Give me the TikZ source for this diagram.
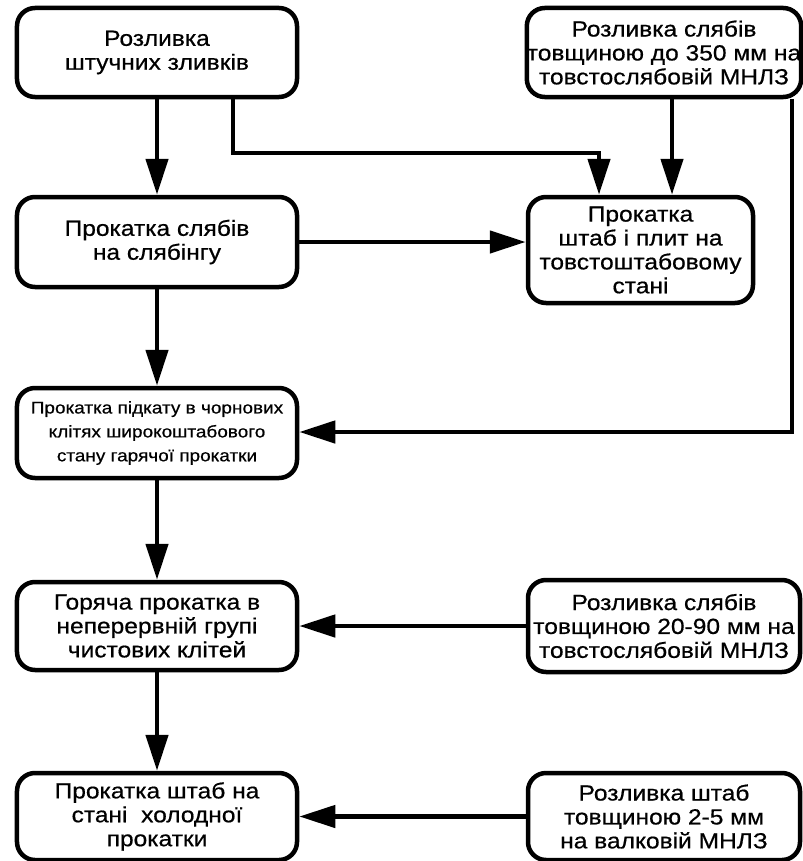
\documentclass[tikz,border=0pt]{standalone}
\usepackage{fontspec}
\setmainfont{Liberation Sans}[FakeStretch=1.12, FakeBold=0.6]
\usetikzlibrary{arrows.meta}

\tikzset{
  blok/.style={draw, line width=4.5bp, rounded corners=18bp, align=center,
    inner sep=0pt, font=\fontsize{22}{24}\selectfont},
  potik/.style={line width=4.5bp, line join=miter,
    -{Triangle[length=36bp,width=22bp]}}
}

\begin{document}
\begin{tikzpicture}[x=1bp, y=-1bp]

    \useasboundingbox (0,0) rectangle (803,861);

    % Left column
    \node[blok, minimum width=280bp, minimum height=89bp] (zlivky) at (157,52.5)
        {Розливка\\штучних зливків};
    \node[blok, minimum width=280bp, minimum height=90bp] (slyabing) at (157,242)
        {Прокатка слябів\\на слябінгу};
    \node[blok, minimum width=280bp, minimum height=90bp,
        font=\fontsize{17}{24}\selectfont] (chorn) at (157,433)
        {Прокатка підкату в чорнових\\клітях широкоштабового\\стану гарячої прокатки};
    \node[blok, minimum width=280bp, minimum height=88bp] (chyst) at (157,626)
        {Горяча прокатка в\\неперервній групі\\чистових клітей};
    \node[blok, minimum width=280bp, minimum height=87bp] (kholod) at (157,816.5)
        {Прокатка штаб на\\стані\ \ холодної\\прокатки};

    % Right column
    \node[blok, minimum width=272bp, minimum height=89bp] (mnlz350) at (664,52.5)
        {Розливка слябів\\товщиною до 350 мм на\\товстослябовій МНЛЗ};
    \node[blok, minimum width=225bp, minimum height=106bp] (tovst) at (640.5,250)
        {Прокатка\\штаб і плит на\\товстоштабовому\\стані};
    \node[blok, minimum width=272bp, minimum height=92bp] (mnlz90) at (664,626)
        {Розливка слябів\\товщиною 20-90 мм на\\товстослябовій МНЛЗ};
    \node[blok, minimum width=272bp, minimum height=87bp] (valk) at (664,816.5)
        {Розливка штаб\\товщиною 2-5 мм\\на валковій МНЛЗ};

    % Turning points of the long connectors
    \coordinate (k1) at (233,153);
    \coordinate (k2) at (599,153);
    \coordinate (k3) at (672,153);
    \coordinate (k4) at (792,432);

    % Main vertical flow
    \draw[potik] (zlivky) -- (slyabing);
    \draw[potik] (slyabing) -- (chorn);
    \draw[potik] (chorn) -- (chyst);
    \draw[potik] (chyst) -- (kholod);

    % Ingots to plate mill
    \draw[potik] (zlivky.south -| k1) |- (k2) -- (tovst.north -| k2);
    \draw[potik] (mnlz350.south -| k3) -- (tovst.north -| k3);
    \draw[potik] (slyabing.east) -- (tovst.west |- slyabing.east);

    % Thick slabs to roughing stands
    \draw[potik] (mnlz350.south -| k4) |- (chorn.east |- k4);

    % Thin slabs and strip
    \draw[potik] (mnlz90.west) -- (chyst.east);
    \draw[potik] (valk.west) -- (kholod.east);

\end{tikzpicture}
\end{document}
